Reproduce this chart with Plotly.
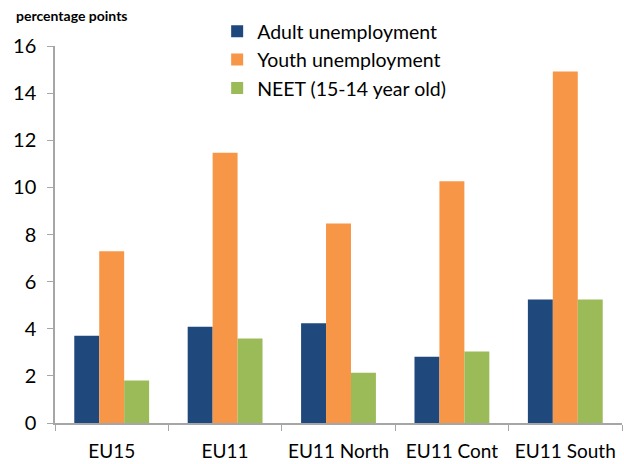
import plotly.graph_objects as go

categories = ["EU15", "EU11", "EU11 North", "EU11 Cont", "EU11 South"]
adult = [3.70, 4.08, 4.23, 2.81, 5.24]
youth = [7.29, 11.47, 8.47, 10.26, 14.92]
neet = [1.80, 3.59, 2.13, 3.03, 5.24]
series_names = ["Adult unemployment", "Youth unemployment", "NEET (15-14 year old)"]
colors = ["#1F497D", "#F79646", "#9BBB59"]
y_ticks = [0, 2, 4, 6, 8, 10, 12, 14, 16]

fig = go.Figure()
for name, vals, col in zip(series_names, [adult, youth, neet], colors):
    fig.add_trace(go.Bar(x=categories, y=vals, name=name, marker_color=col,
                         marker_line_width=0))

font = "Lato, Carlito, 'Liberation Sans', sans-serif"
fig.update_layout(
    width=624, height=464,
    margin=dict(l=55, r=2, t=46, b=41),
    plot_bgcolor="white", paper_bgcolor="white",
    barmode="group", bargap=0.34, bargroupgap=0,
    font=dict(family=font, size=19, color="black"),
    legend=dict(x=0.286, y=1.09, xanchor="left", yanchor="top",
                bgcolor="rgba(0,0,0,0)", font=dict(size=19.5),
                tracegroupgap=0, itemwidth=30),
    annotations=[dict(text="<b>percentage points</b>", xref="paper", yref="paper",
                      x=-0.073, y=1.08, xanchor="left", yanchor="middle",
                      showarrow=False, font=dict(size=14, family=font))],
    xaxis=dict(showline=True, linecolor="#A6A6A6", linewidth=1.5,
               ticks="outside", tickson="boundaries", ticklen=6,
               tickcolor="#A6A6A6", showgrid=False, automargin=False,
               ticklabelstandoff=10, tickfont=dict(size=19)),
    yaxis=dict(range=[0, 16], tickvals=y_ticks, showline=True,
               linecolor="#A6A6A6", linewidth=1.5, ticks="outside",
               ticklen=6, tickcolor="#A6A6A6", showgrid=False,
               automargin=False, ticklabelstandoff=7,
               zeroline=False, tickfont=dict(size=20)),
)
fig.write_html("out.html", config={"displayModeBar": False},
               post_script="document.body.style.margin='0';document.body.style.padding='0';")
